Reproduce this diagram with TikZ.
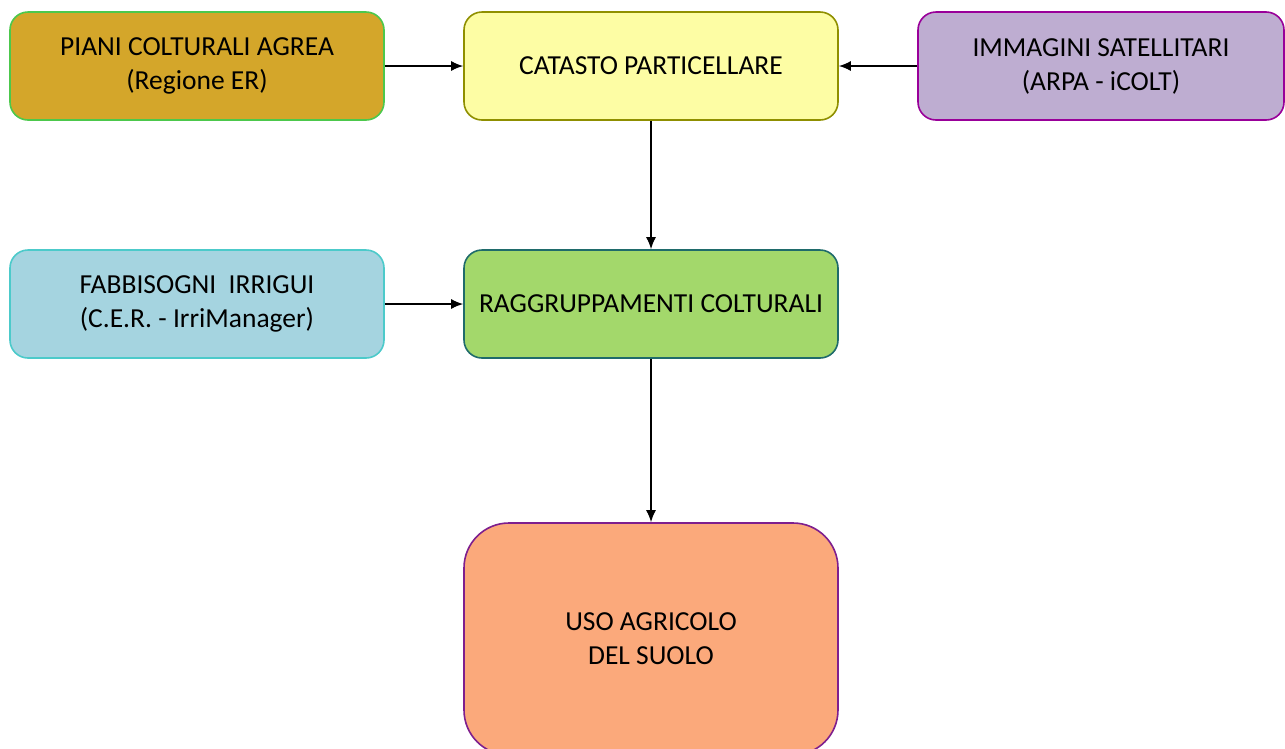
\documentclass[tikz,border=0pt]{standalone}
\usepackage{fontspec}
\setmainfont{Carlito}
\usetikzlibrary{arrows.meta}

\definecolor{goldfill}{HTML}{D4A62A}
\definecolor{golddraw}{HTML}{4CC84C}
\definecolor{yelfill}{HTML}{FDFDA4}
\definecolor{yeldraw}{HTML}{8F8F00}
\definecolor{lilfill}{HTML}{BEADD1}
\definecolor{lildraw}{HTML}{990099}
\definecolor{bluefill}{HTML}{A5D4E0}
\definecolor{bluedraw}{HTML}{4CCACA}
\definecolor{grnfill}{HTML}{A3D86B}
\definecolor{grndraw}{HTML}{1F6B6B}
\definecolor{salfill}{HTML}{FBA97B}
\definecolor{saldraw}{HTML}{7E1F8E}

\begin{document}
\begin{tikzpicture}
      [x=1pt,y=-1pt
      ,box/.style={rounded corners=18pt,line width=1.6pt,minimum width=374pt,minimum height=108pt,inner sep=0pt,align=center,font=\fontsize{27.5}{34}\selectfont}
      ,arr/.style={-{Latex[length=12pt,width=10pt]},line width=1.6pt}
      ]
        \useasboundingbox[fill=white] (0,0) rectangle (1285,748);

        % upper row
        \node[box,draw=golddraw,fill=goldfill] (piani) at (197,66) {PIANI COLTURALI AGREA\\(Regione ER)};
        \node[box,draw=yeldraw,fill=yelfill] (catasto) at (651,66) {CATASTO PARTICELLARE};
        \node[box,draw=lildraw,fill=lilfill,minimum width=366pt] (immagini) at (1101,66) {IMMAGINI SATELLITARI\\(ARPA - iCOLT)};

        % middle row
        \node[box,draw=bluedraw,fill=bluefill] (fabb) at (197,304) {FABBISOGNI\ \ IRRIGUI\\(C.E.R. - IrriManager)};
        \node[box,draw=grndraw,fill=grnfill] (ragg) at (651,304) {RAGGRUPPAMENTI COLTURALI};

        % result
        \node[box,draw=saldraw,fill=salfill,rounded corners=45pt,minimum height=232pt] (uso) at (651,639) {USO AGRICOLO\\DEL SUOLO};

        \draw[arr] (piani) -- (catasto);
        \draw[arr] (immagini) -- (catasto);
        \draw[arr] (catasto) -- (ragg);
        \draw[arr] (fabb) -- (ragg);
        \draw[arr] (ragg) -- (uso);
\end{tikzpicture}
\end{document}
